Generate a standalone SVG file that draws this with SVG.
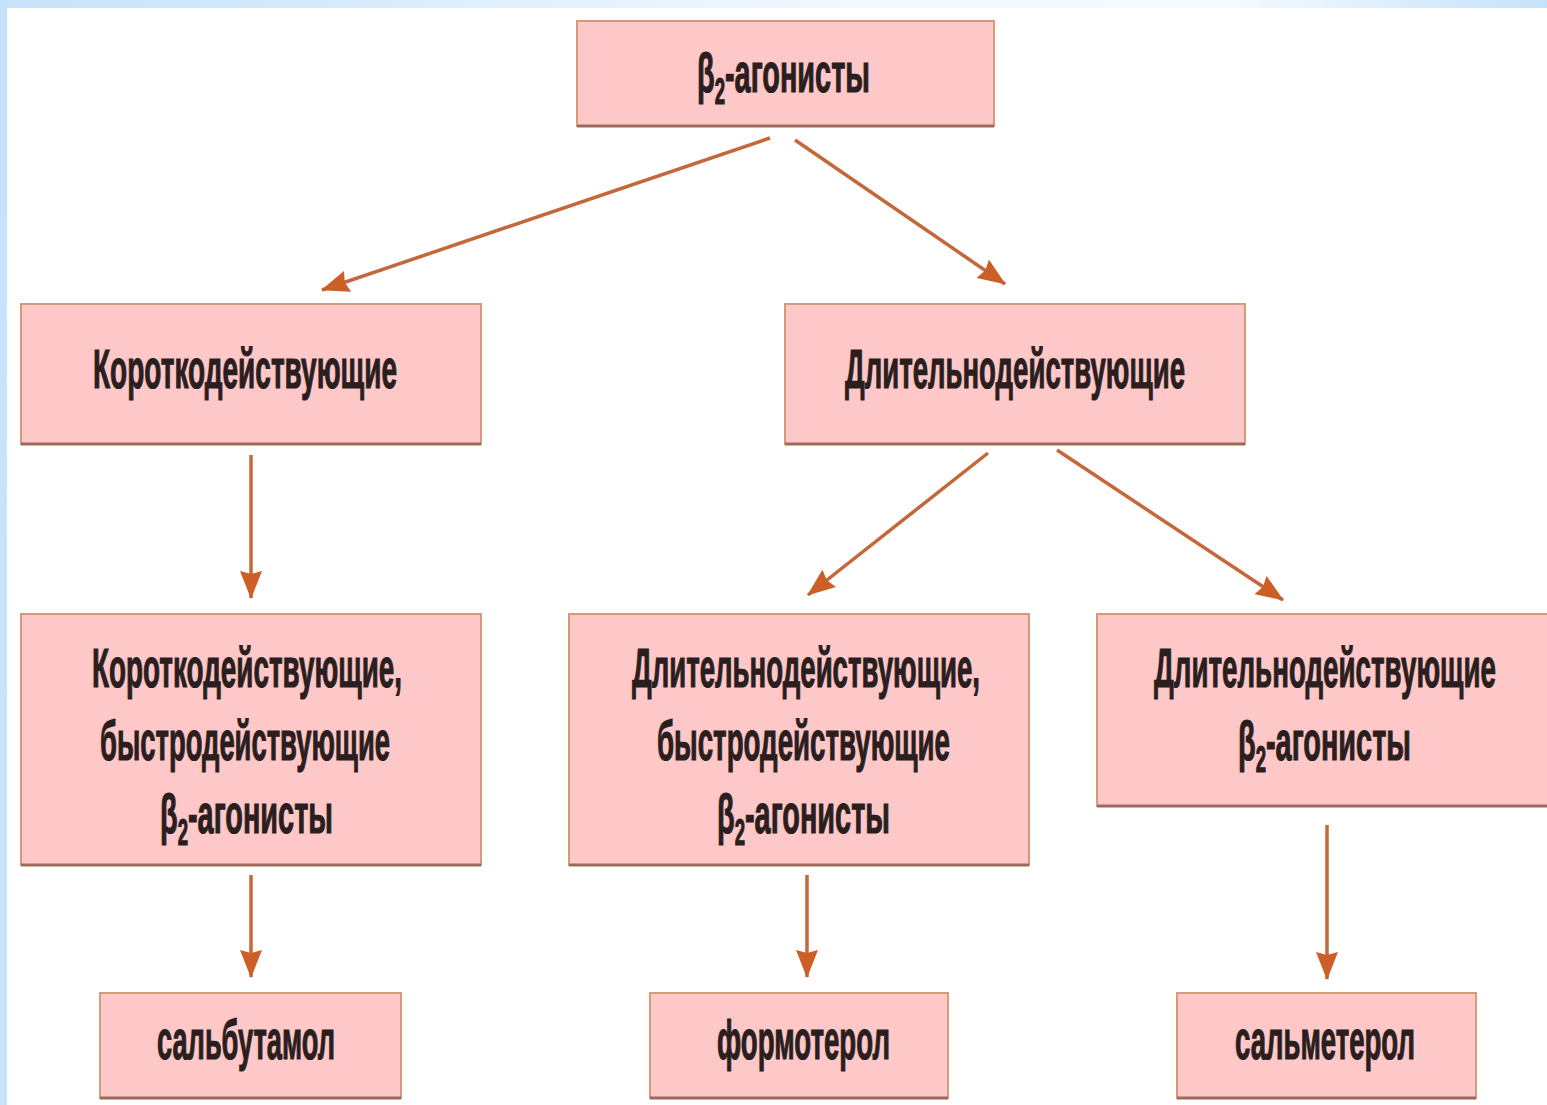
<svg xmlns="http://www.w3.org/2000/svg" width="1547" height="1105" viewBox="0 0 1547 1105">
<defs>
<linearGradient id="topband" x1="0" y1="0" x2="1547" y2="0" gradientUnits="userSpaceOnUse">
<stop offset="0" stop-color="#C4E2FA"/>
<stop offset="0.55" stop-color="#F2F9FF"/>
<stop offset="0.8" stop-color="#F4FAFF"/>
<stop offset="1" stop-color="#C4E2FA"/>
</linearGradient>
<linearGradient id="leftband" x1="0" y1="0" x2="0" y2="1105" gradientUnits="userSpaceOnUse">
<stop offset="0" stop-color="#C4E2FA"/>
<stop offset="1" stop-color="#C8E4FB"/>
</linearGradient>
<marker id="ah" viewBox="0 0 28 22" refX="27" refY="11" markerWidth="28" markerHeight="22" markerUnits="userSpaceOnUse" orient="auto">
<path d="M0,0 L28,11 L0,22 L3,11 Z" fill="#CC5E28"/>
</marker>
<style>
.box{fill:#FFC8C8;stroke:#D49A7C;stroke-width:2}
.shadow{stroke:#9C6A5A;stroke-width:3}
.t{font-family:"Liberation Sans",Arial,sans-serif;font-weight:bold;font-size:56px;fill:#2A1E1E;stroke:#2A1E1E;stroke-width:1.2;text-anchor:start}
.sub{font-size:36px}
.conn{stroke:#C4673A;stroke-width:3.5;fill:none;marker-end:url(#ah)}
</style>
</defs>
<rect width="1547" height="1105" fill="#FFFFFF"/>
<rect x="0" y="0" width="1547" height="8" fill="url(#topband)"/>
<rect x="0" y="0" width="7" height="1105" fill="url(#leftband)"/>

<g id="connectors">
<line class="conn" x1="770" y1="138" x2="322" y2="290"/>
<line class="conn" x1="795" y1="140" x2="1005" y2="284"/>
<line class="conn" x1="251" y1="455" x2="251" y2="598"/>
<line class="conn" x1="988" y1="453" x2="808" y2="595"/>
<line class="conn" x1="1057" y1="450" x2="1283" y2="600"/>
<line class="conn" x1="251" y1="875" x2="251" y2="977"/>
<line class="conn" x1="807" y1="875" x2="807" y2="977"/>
<line class="conn" x1="1327" y1="825" x2="1327" y2="979"/>
</g>

<g id="n-root">
<rect class="box" x="577" y="21" width="417" height="105"/>
<line class="shadow" x1="577" y1="126" x2="994" y2="126"/>
<text class="t" x="697" y="92" textLength="173" lengthAdjust="spacingAndGlyphs">β<tspan class="sub" dy="12">2</tspan><tspan dy="-12">-агонисты</tspan></text>
</g>

<g id="n-short">
<rect class="box" x="21" y="304" width="460" height="140"/>
<line class="shadow" x1="21" y1="444" x2="481" y2="444"/>
<text class="t" x="93" y="388" textLength="304" lengthAdjust="spacingAndGlyphs">Короткодействующие</text>
</g>

<g id="n-long">
<rect class="box" x="785" y="304" width="460" height="140"/>
<line class="shadow" x1="785" y1="444" x2="1245" y2="444"/>
<text class="t" x="845" y="388" textLength="340" lengthAdjust="spacingAndGlyphs">Длительнодействующие</text>
</g>

<g id="n-short-fast">
<rect class="box" x="21" y="614" width="460" height="251"/>
<line class="shadow" x1="21" y1="865" x2="481" y2="865"/>
<text class="t" x="92" y="687" textLength="310" lengthAdjust="spacingAndGlyphs">Короткодействующие,</text>
<text class="t" x="100" y="760" textLength="290" lengthAdjust="spacingAndGlyphs">быстродействующие</text>
<text class="t" x="160" y="833" textLength="173" lengthAdjust="spacingAndGlyphs">β<tspan class="sub" dy="12">2</tspan><tspan dy="-12">-агонисты</tspan></text>
</g>

<g id="n-long-fast">
<rect class="box" x="569" y="614" width="460" height="251"/>
<line class="shadow" x1="569" y1="865" x2="1029" y2="865"/>
<text class="t" x="632" y="687" textLength="348" lengthAdjust="spacingAndGlyphs">Длительнодействующие,</text>
<text class="t" x="657" y="760" textLength="293" lengthAdjust="spacingAndGlyphs">быстродействующие</text>
<text class="t" x="717" y="833" textLength="173" lengthAdjust="spacingAndGlyphs">β<tspan class="sub" dy="12">2</tspan><tspan dy="-12">-агонисты</tspan></text>
</g>

<g id="n-long-b2">
<rect class="box" x="1097" y="614" width="460" height="192"/>
<line class="shadow" x1="1097" y1="806" x2="1557" y2="806"/>
<text class="t" x="1154" y="687" textLength="342" lengthAdjust="spacingAndGlyphs">Длительнодействующие</text>
<text class="t" x="1238" y="760" textLength="173" lengthAdjust="spacingAndGlyphs">β<tspan class="sub" dy="12">2</tspan><tspan dy="-12">-агонисты</tspan></text>
</g>

<g id="n-salbutamol">
<rect class="box" x="100" y="993" width="301" height="105"/>
<line class="shadow" x1="100" y1="1098" x2="401" y2="1098"/>
<text class="t" x="157" y="1059" textLength="178" lengthAdjust="spacingAndGlyphs">сальбутамол</text>
</g>

<g id="n-formoterol">
<rect class="box" x="650" y="993" width="298" height="105"/>
<line class="shadow" x1="650" y1="1098" x2="948" y2="1098"/>
<text class="t" x="717" y="1059" textLength="173" lengthAdjust="spacingAndGlyphs">формотерол</text>
</g>

<g id="n-salmeterol">
<rect class="box" x="1177" y="993" width="299" height="105"/>
<line class="shadow" x1="1177" y1="1098" x2="1476" y2="1098"/>
<text class="t" x="1235" y="1059" textLength="180" lengthAdjust="spacingAndGlyphs">сальметерол</text>
</g>
</svg>
